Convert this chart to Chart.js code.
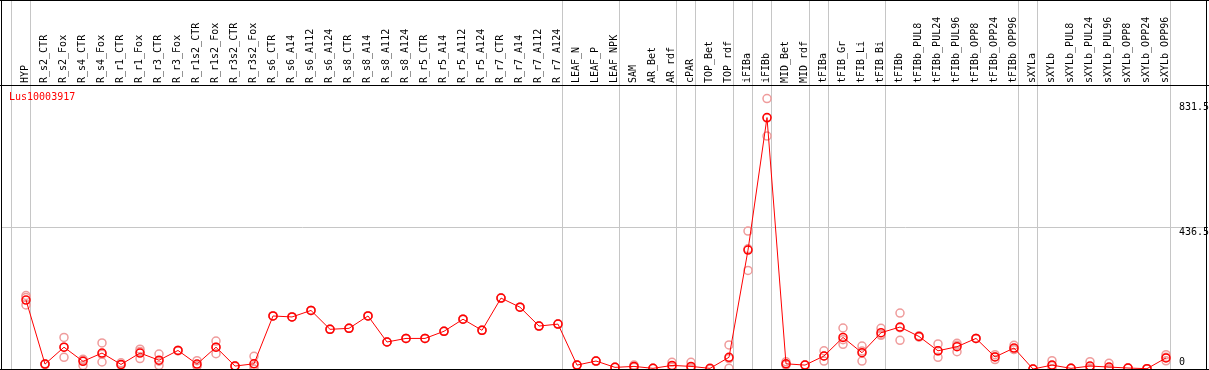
<!DOCTYPE html>
<html>
<head>
<meta charset="utf-8">
<script src="https://cdn.jsdelivr.net/npm/chart.js@4/dist/chart.umd.min.js"></script>
<style>
  html, body { margin: 0; padding: 0; background: #fff; }
  canvas { display: block; }
</style>
</head>
<body>
<canvas id="efpChart" width="1209" height="370"></canvas>
<script>
// sample names, in drawing order
var samples = [
    "HYP", "R_s2_CTR", "R_s2_Fox", "R_s4_CTR", "R_s4_Fox", "R_r1_CTR", "R_r1_Fox", "R_r3_CTR", "R_r3_Fox",
    "R_r1s2_CTR", "R_r1s2_Fox", "R_r3s2_CTR", "R_r3s2_Fox",
    "R_s6_CTR", "R_s6_A14", "R_s6_A112", "R_s6_A124", "R_s8_CTR", "R_s8_A14", "R_s8_A112", "R_s8_A124",
    "R_r5_CTR", "R_r5_A14", "R_r5_A112", "R_r5_A124", "R_r7_CTR", "R_r7_A14", "R_r7_A112", "R_r7_A124",
    "LEAF_N", "LEAF_P", "LEAF_NPK", "SAM", "AR_Bet", "AR_rdf", "cPAR", "TOP_Bet", "TOP_rdf",
    "iFIBa", "iFIBb", "MID_Bet", "MID_rdf", "tFIBa", "tFIB_Gr", "tFIB_Li", "tFIB_Bi",
    "tFIBb", "tFIBb_PUL8", "tFIBb_PUL24", "tFIBb_PUL96", "tFIBb_OPP8", "tFIBb_OPP24", "tFIBb_OPP96",
    "sXYLa", "sXYLb", "sXYLb_PUL8", "sXYLb_PUL24", "sXYLb_PUL96", "sXYLb_OPP8", "sXYLb_OPP24", "sXYLb_OPP96"
];

// mean expression
var meanValues = [
    212, 15, 67, 23.5, 49, 14, 49, 27, 57, 15, 67, 9, 16,
    163, 160, 180, 122, 125, 163, 83, 94, 94, 116, 153, 119, 218, 190, 132, 138,
    12, 24.5, 5, 8, 2, 11, 8, 2, 36, 365.5, 773, 16, 12, 40, 97, 50, 111.5,
    129, 100, 56, 68.5, 94, 37, 64.5,
    0, 12, 2, 9, 6, 3, 1, 34
];

// replicates
var rep1 = [
    226, 15, 97, 30, 80, 19, 61, 46, 58, 25.5, 86, 10, 39,
    163, 160, 180, 122, 125, 163, 83, 94, 94, 116, 153, 119, 218, 190, 132, 138,
    12, 24.5, 5, 12, 2, 20.5, 20.5, 0, 74, 424, 831.5, 22, 12, 56, 126, 70.6, 125,
    172, 102, 77, 79, 94, 44, 73,
    0, 25.5, 2, 22.5, 17.5, 3, 1, 44
];
var rep2 = [
    220, 14, 67, 28, 45, 12, 54, 24, 56, 10, 67, 8, 9,
    163, 160, 180, 122, 125, 163, 83, 94, 94, 116, 153, 119, 218, 190, 132, 138,
    12, 24.5, 5, 5, 2, 8, 4, 0, 32, 369.5, 771.5, 14, 12, 40, 90, 55, 106,
    127, 100, 56, 73, 94, 38, 60,
    0, 10, 2, 2, 0, 3, 1, 36
];
var rep3 = [
    197, 16, 36, 11, 21.5, 12, 32, 11, 57, 9, 47, 9, 0,
    163, 160, 180, 122, 125, 163, 83, 94, 94, 116, 153, 119, 218, 190, 132, 138,
    12, 24.5, 5, 8, 2, 5, 0, 0, 2, 303, 716, 12, 12, 24.5, 76, 24.5, 103.5,
    88, 98, 36, 53, 94, 29, 60,
    0, 1, 2, 2, 0, 3, 1, 25
];

// group separators are drawn just after these sample indexes
var groupEnds = [-1, 0, 28, 31, 34, 35, 37, 38, 39, 41, 42, 45, 52, 53, 60];

var yTicks = [0, 436.5, 831.5];
var yMax = 873.075;
var geneName = "Lus10003917";

var mono = '"DejaVu Sans Mono", "Liberation Mono", monospace';
var red = "#ff0000";
var pink = "#ef9c9c";
var gridGray = "#c6c6c6";

function points(arr) {
    return arr.map(function (v, i) { return {x: i, y: v}; });
}

function repSet(arr) {
    return {
        data: points(arr),
        showLine: false,
        pointRadius: 4,
        pointHoverRadius: 4,
        pointBorderWidth: 1.5,
        pointBorderColor: pink,
        pointBackgroundColor: "rgba(0,0,0,0)",
        order: 2
    };
}

function noPad(scale) {
    scale.paddingLeft = 0;
    scale.paddingRight = 0;
    scale.paddingTop = 0;
    scale.paddingBottom = 0;
}

var framePlugin = {
    id: "frame",
    beforeDatasetsDraw: function (chart) {
        var ctx = chart.ctx;
        var xs = chart.scales.x;
        ctx.save();
        ctx.fillStyle = gridGray;
        groupEnds.forEach(function (k) {
            var px = Math.floor(xs.getPixelForValue(k + 0.24));
            ctx.fillRect(px, 0, 1, chart.chartArea.bottom);
        });
        ctx.restore();
    },
    afterDraw: function (chart) {
        var ctx = chart.ctx;
        var a = chart.chartArea;
        ctx.save();
        ctx.fillStyle = "#000";
        ctx.fillRect(0, 0, chart.width, 1);
        ctx.fillRect(0, a.top, chart.width, 1);
        ctx.fillRect(0, a.bottom, chart.width, 1);
        ctx.fillRect(1, 0, 1, chart.height);
        ctx.fillRect(a.right - 1, 0, 1, chart.height);
        ctx.fillStyle = red;
        ctx.font = "10px " + mono;
        ctx.textBaseline = "middle";
        ctx.fillText(geneName, 9, a.top + 12.5);
        ctx.restore();
    }
};

var chart = new Chart(document.getElementById("efpChart"), {
    type: "line",
    data: {
        datasets: [
            {
                data: points(meanValues),
                borderColor: red,
                borderWidth: 1,
                tension: 0,
                pointRadius: 4,
                pointHoverRadius: 4,
                pointBorderWidth: 1.5,
                pointBorderColor: red,
                pointBackgroundColor: "rgba(0,0,0,0)",
                order: 1
            },
            repSet(rep1),
            repSet(rep2),
            repSet(rep3)
        ]
    },
    options: {
        responsive: false,
        animation: false,
        devicePixelRatio: 1,
        layout: {autoPadding: false, padding: {left: 1, right: 2, top: 0, bottom: 1}},
        plugins: {legend: {display: false}, tooltip: {enabled: false}},
        scales: {
            x: {
                type: "linear",
                position: "top",
                bounds: "data",
                min: -25 / 19,
                max: -25 / 19 + 1206 / 19,
                afterBuildTicks: function (scale) {
                    scale.ticks = samples.map(function (s, i) { return {value: i}; });
                },
                afterFit: function (scale) { scale.height = 85; noPad(scale); },
                grid: {display: false, drawTicks: false},
                border: {display: false},
                ticks: {
                    autoSkip: false,
                    minRotation: 90,
                    maxRotation: 90,
                    padding: 2,
                    labelOffset: 11,
                    color: "#000",
                    font: {family: mono, size: 10},
                    callback: function (v) { return samples[v]; }
                }
            },
            y: {
                type: "linear",
                position: "right",
                bounds: "data",
                min: 0,
                max: yMax,
                afterBuildTicks: function (scale) {
                    scale.ticks = yTicks.map(function (v) { return {value: v}; });
                },
                afterFit: function (scale) { scale.width = 0; noPad(scale); },
                grid: {
                    drawTicks: false,
                    lineWidth: 1,
                    color: function (c) {
                        return c.tick && c.tick.value === 436.5 ? gridGray : "rgba(0,0,0,0)";
                    }
                },
                border: {display: false},
                ticks: {
                    mirror: true,
                    crossAlign: "far",
                    padding: 2,
                    color: "#000",
                    font: function (c) {
                        var lh = [14, 10, 17.4][c.index] || 10;
                        return {family: mono, size: 10, lineHeight: lh + "px"};
                    },
                    callback: function (v, i) {
                        var s = String(yTicks[i]);
                        return i === 0 ? [s, ""] : ["", s];
                    }
                }
            }
        }
    },
    plugins: [framePlugin]
});
</script>
</body>
</html>
